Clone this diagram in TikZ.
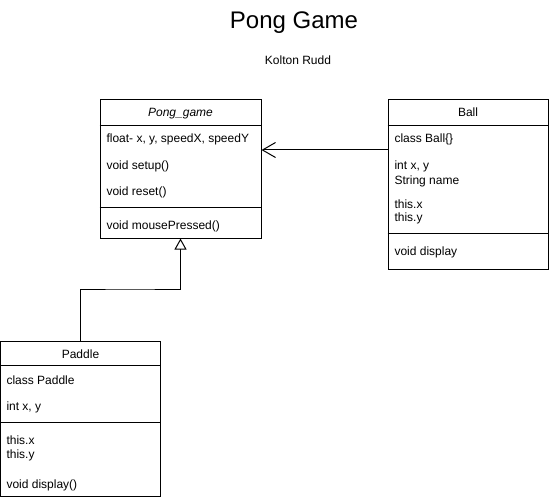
\documentclass[tikz,border=0pt]{standalone}
\usepackage{fontspec}
\setmainfont{Liberation Sans}
\usetikzlibrary{arrows.meta,positioning}

\begin{document}
\begin{tikzpicture}[x=1pt,y=-1pt,line width=1pt,
        every node/.style={font=\fontsize{12}{14}\selectfont,inner sep=0pt},
        classbox/.style={draw,rectangle,minimum width=#1},
        member/.style={anchor=base west},
        header/.style={anchor=base}]
        \useasboundingbox (0,0) rectangle (549,500);

        % titles
        \node[header,font=\fontsize{24}{28}\selectfont] (title) at (294,29) {Pong Game};
        \node[header] (author) at (298,65) {Kolton Rudd};

        % class boxes
        \node[classbox=161pt,minimum height=138pt] (pong) at (180.5,169) {};
        \node[classbox=160pt,minimum height=169pt] (ball) at (468,184.5) {};
        \node[classbox=160pt,minimum height=155pt] (paddle) at (80.5,418.5) {};

        % Pong_game
        \node[header,font=\fontsize{12}{14}\selectfont\itshape] (pongname) at (180.5,117) {Pong\_game};
        \draw (pong.north west) ++(0,26) -- ++(161,0);
        \node[member] (pongvars) at (106,143) {float- x, y, speedX, speedY};
        \node[member] (pongsetup) at (106,169) {void setup()};
        \node[member] (pongreset) at (106,195) {void reset()};
        \draw (pong.north west) ++(0,108) -- ++(161,0);
        \node[member] (pongmouse) at (106,229) {void mousePressed()};

        % Ball
        \node[header] (ballname) at (468,117) {Ball};
        \draw (ball.north west) ++(0,26) -- ++(160,0);
        \node[member] (ballclass) at (394,143) {class Ball\{\}};
        \node[member] (ballint) at (394,170) {int x, y};
        \node[member] (ballstring) at (394,184) {String name};
        \node[member] (ballthisx) at (394,208) {this.x};
        \node[member] (ballthisy) at (394,222) {this.y};
        \draw (ball.north west) ++(0,134) -- ++(160,0);
        \node[member] (balldisplay) at (394,255) {void display};

        % Paddle
        \node[header] (paddlename) at (80.5,358) {Paddle};
        \draw (paddle.north west) ++(0,25) -- ++(160,0);
        \node[member] (paddleclass) at (6,384) {class Paddle};
        \node[member] (paddleint) at (6,410) {int x, y};
        \draw (paddle.north west) ++(0,82) -- ++(160,0);
        \node[member] (paddlethisx) at (6,444) {this.x};
        \node[member] (paddlethisy) at (6,458) {this.y};
        \node[member] (paddledisplay) at (6,488) {void display()};

        % connectors
        \draw[-{Straight Barb[length=13pt,width=15pt]}] (ball.west |- 0,150) -- (pong.east |- 0,150);
        \coordinate (bend) at (130,289);
        \draw[-{Triangle[open,length=11pt,width=12pt]}] (paddle.north) |- (bend) -| (pong.south);
\end{tikzpicture}
\end{document}
